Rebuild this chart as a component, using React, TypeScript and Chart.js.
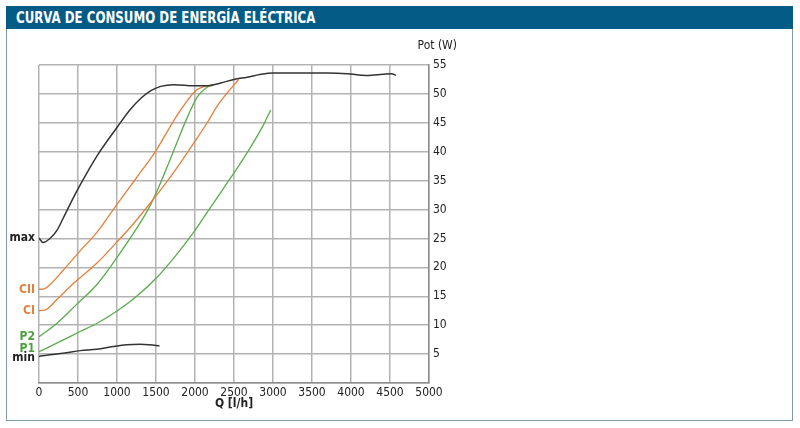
import React, { useEffect, useRef } from 'react';
import { Chart, registerables } from 'chart.js';

Chart.register(...registerables);

const FONT = "'Liberation Sans Narrow', 'DejaVu Sans Condensed', 'Noto Sans', sans-serif";

// Axis ticks
const xTickStep = 500;
const xMin = 0;
const xMax = 5000;
const yTickStep = 5;
const yMin = 0;
const yMax = 55;

// Series: Q [l/h] and Pot [W]
const maxQ = [0, 50, 140, 230, 310, 420, 530, 740, 1000, 1170, 1310, 1440, 1560, 1730, 1990, 2160, 2330, 2500, 2670, 2850, 3000, 3300, 3700, 3950, 4200, 4410, 4520, 4575];
const maxP = [25.1, 24.3, 25.0, 26.4, 28.5, 31.5, 34.3, 39.2, 44.2, 47.3, 49.3, 50.6, 51.3, 51.6, 51.4, 51.4, 51.9, 52.5, 52.9, 53.4, 53.6, 53.6, 53.6, 53.5, 53.2, 53.4, 53.5, 53.2];

const ciiQ = [0, 70, 140, 310, 530, 740, 1000, 1250, 1500, 1650, 1780, 1900, 2010, 2120, 2190];
const ciiP = [16.2, 16.3, 17.0, 19.5, 22.9, 26.0, 30.9, 35.5, 40.2, 43.6, 46.5, 48.8, 50.6, 51.3, 51.5];

const ciQ = [0, 77, 227, 440, 740, 1000, 1170, 1420, 1650, 1820, 1990, 2160, 2290, 2415, 2560];
const ciP = [12.5, 12.6, 14.4, 17.2, 20.7, 24.4, 26.9, 31.0, 35.0, 38.2, 41.6, 45.1, 48.0, 50.2, 52.5];

const p2Q = [0, 227, 483, 740, 953, 1167, 1394, 1500, 1650, 1780, 1900, 2030, 2160, 2220];
const p2P = [8.0, 10.3, 13.6, 17.0, 20.8, 25.0, 29.9, 32.8, 37.6, 42.0, 45.9, 49.5, 51.2, 51.6];

const p1Q = [0, 312, 526, 740, 996, 1252, 1508, 1722, 1979, 2160, 2372, 2543, 2713, 2876, 2970];
const p1P = [5.4, 7.45, 8.9, 10.3, 12.4, 15.0, 18.2, 21.5, 26.0, 29.6, 33.8, 37.2, 40.8, 44.6, 47.2];

const minQ = [0, 140, 310, 530, 740, 950, 1120, 1300, 1420, 1545];
const minP = [4.6, 4.9, 5.15, 5.6, 5.85, 6.3, 6.6, 6.7, 6.6, 6.4];

// Curve labels on the left side (name, level in W)
const curveLabels = ['max', 'CII', 'CI', 'P2', 'P1', 'min'];
const curveLabelLevels = [25.15, 16.1, 12.5, 8.0, 5.9, 4.35];

const BLACK = '#333333';
const ORANGE = '#e57f3c';
const GREEN = '#5aab4c';
const curveLabelColors = ['#222222', ORANGE, ORANGE, '#4c9e3e', '#4c9e3e', '#222222'];

const toPts = (q: number[], p: number[]) => q.map((x, i) => ({ x, y: p[i] }));

const labelPlugin = {
  id: 'curveLabels',
  afterDraw(chart: any) {
    const { ctx, chartArea, scales } = chart;
    ctx.save();
    ctx.font = `bold 12px ${FONT}`;
    ctx.textAlign = 'right';
    ctx.textBaseline = 'middle';
    curveLabels.forEach((t, i) => {
      ctx.fillStyle = curveLabelColors[i];
      ctx.fillText(t, chartArea.left - 4, scales.y.getPixelForValue(curveLabelLevels[i]));
    });
    ctx.fillStyle = '#222222';
    ctx.font = `12px ${FONT}`;
    ctx.textAlign = 'right';
    ctx.fillText('Pot (W)', chartArea.right + 28, chartArea.top - 19);
    ctx.font = `bold 12px ${FONT}`;
    ctx.textAlign = 'center';
    ctx.fillText('Q [l/h]', (chartArea.left + chartArea.right) / 2, chartArea.bottom + 21);
    ctx.restore();
  },
};

const line = (data: { x: number; y: number }[], color: string, width: number) => ({
  data,
  borderColor: color,
  borderWidth: width,
  pointRadius: 0,
  fill: false,
  cubicInterpolationMode: 'monotone' as const,
});

export default function App() {
  const ref = useRef<HTMLCanvasElement>(null);

  useEffect(() => {
    const chart = new Chart(ref.current as HTMLCanvasElement, {
      type: 'line',
      data: {
        datasets: [
          line(toPts(maxQ, maxP), BLACK, 1.5),
          line(toPts(ciiQ, ciiP), ORANGE, 1.3),
          line(toPts(ciQ, ciP), ORANGE, 1.3),
          line(toPts(p2Q, p2P), GREEN, 1.3),
          line(toPts(p1Q, p1P), GREEN, 1.3),
          line(toPts(minQ, minP), BLACK, 1.5),
        ] as any,
      },
      options: {
        responsive: false,
        animation: false,
        devicePixelRatio: 1,
        layout: { padding: { left: 39, top: 65, right: 321, bottom: 15 } },
        plugins: { legend: { display: false }, tooltip: { enabled: false }, title: { display: false } },
        scales: {
          x: {
            type: 'linear',
            position: 'bottom',
            min: xMin,
            max: xMax,
            ticks: {
              stepSize: xTickStep,
              color: '#222',
              font: { family: FONT, size: 12 },
              padding: 3,
              maxRotation: 0,
              callback: (v: any) => String(v),
            },
            grid: { color: '#b3b3b3', lineWidth: 1.5, drawTicks: false },
            border: { display: true, color: '#8c8c8c', width: 1.5 },
            afterFit: (s: any) => { s.height = 30; },
          },
          y: {
            type: 'linear',
            position: 'right',
            min: yMin,
            max: yMax,
            ticks: {
              stepSize: yTickStep,
              color: '#222',
              font: { family: FONT, size: 12 },
              padding: 4,
              callback: (v: any) => (v === 0 ? '' : String(v)),
            },
            grid: { color: '#b3b3b3', lineWidth: 1.5, drawTicks: false },
            border: { display: true, color: '#8c8c8c', width: 1.5 },
            afterFit: (s: any) => { s.width = 50; },
          },
        },
      },
      plugins: [labelPlugin],
    });
    return () => chart.destroy();
  }, []);

  return (
    <div style={{ position: 'fixed', left: 0, top: 0, width: 800, height: 428, background: '#ffffff', overflow: 'hidden' }}>
      <div style={{ position: 'absolute', left: 6, top: 6, width: 785, height: 413, border: '1px solid #7f9cac' }} />
      <div
        style={{
          position: 'absolute', left: 6, top: 6, width: 787, height: 23, background: '#045b85', color: '#ffffff',
          fontFamily: FONT, fontWeight: 'bold', fontSize: 16, lineHeight: '23px', paddingLeft: 10, boxSizing: 'border-box',
          whiteSpace: 'nowrap', overflow: 'hidden',
        }}
      >
        <span style={{ display: 'inline-block', transform: 'scaleX(0.82)', transformOrigin: 'left center' }}>
          CURVA DE CONSUMO DE ENERGÍA ELÉCTRICA
        </span>
      </div>
      <div style={{ position: 'absolute', left: 0, top: 0, width: 800, height: 428 }}>
        <canvas ref={ref} width={800} height={428} />
      </div>
    </div>
  );
}
